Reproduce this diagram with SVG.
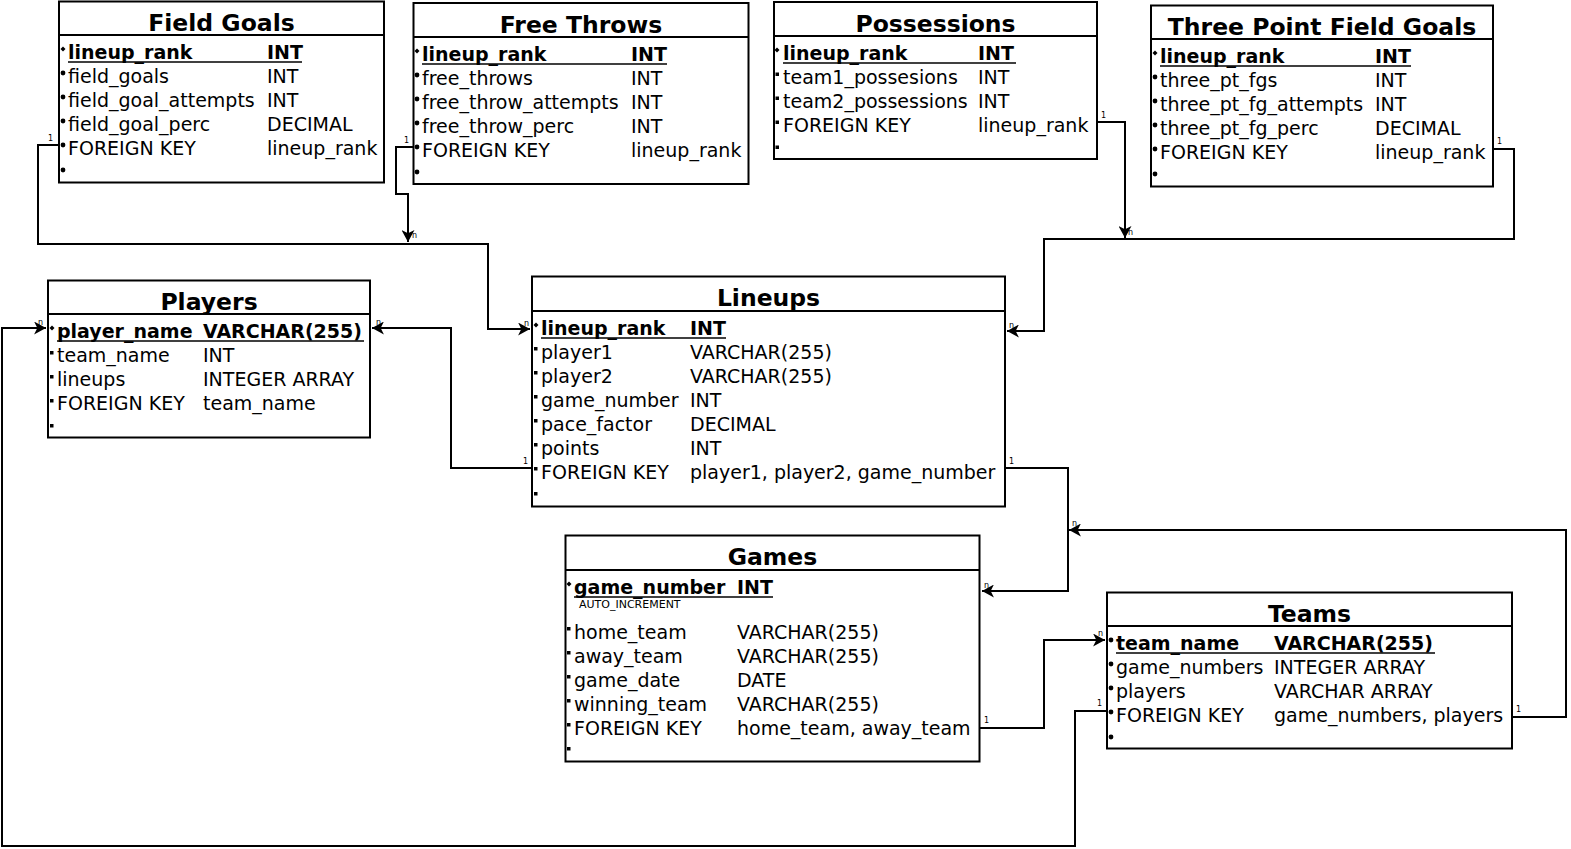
<svg xmlns="http://www.w3.org/2000/svg" width="1571" height="849" viewBox="0 0 1571 849">
<style>
  .box{fill:#fff;stroke:#000;stroke-width:2}
  .hl{stroke:#000;stroke-width:2}
  .title{font-family:"DejaVu Sans",sans-serif;font-weight:bold;font-size:23.5px;text-anchor:middle;fill:#000}
  .t{font-family:"DejaVu Sans",sans-serif;font-size:19px;fill:#000}
  .pk{font-family:"DejaVu Sans",sans-serif;font-size:19px;font-weight:bold;fill:#000}
  .small{font-family:"DejaVu Sans",sans-serif;font-size:11px;fill:#000}
  .ul{stroke:#000;stroke-width:1.5}
  .lbl{font-family:"DejaVu Sans",sans-serif;font-size:8px;fill:#000}
  .conn{fill:none;stroke:#000;stroke-width:2}
</style>
<defs>
  <marker id="arr" markerUnits="userSpaceOnUse" markerWidth="13" markerHeight="13" viewBox="0 0 12 12" refX="11" refY="6" orient="auto">
    <path d="M0,0 L11,6 L0,12 L3,6 z" fill="#000"/>
  </marker>
</defs>

<g id="connectors">
  <path class="conn" d="M59,145 H38 V244 H488 V329 H530" marker-end="url(#arr)"/>
  <path class="conn" d="M413,147 H396 V194 H408 V242" marker-end="url(#arr)"/>
  <path class="conn" d="M1098,122 H1125 V238" marker-end="url(#arr)"/>
  <path class="conn" d="M1493,149 H1514 V239 H1044 V331 H1007" marker-end="url(#arr)"/>
  <path class="conn" d="M532,468 H451 V328 H372" marker-end="url(#arr)"/>
  <path class="conn" d="M1005,468 H1068 V591 H982" marker-end="url(#arr)"/>
  <path class="conn" d="M1512,717 H1566 V530 H1069" marker-end="url(#arr)"/>
  <path class="conn" d="M980,728 H1044 V640 H1105" marker-end="url(#arr)"/>
  <path class="conn" d="M1107,711 H1075 V846 H2 V328 H46" marker-end="url(#arr)"/>
  <text class="lbl" x="48" y="141">1</text>
  <text class="lbl" x="524" y="326">n</text>
  <text class="lbl" x="404" y="143">1</text>
  <text class="lbl" x="412" y="238">n</text>
  <text class="lbl" x="1101" y="118">1</text>
  <text class="lbl" x="1128" y="235">n</text>
  <text class="lbl" x="1497" y="144">1</text>
  <text class="lbl" x="1009" y="328">n</text>
  <text class="lbl" x="523" y="464">1</text>
  <text class="lbl" x="376" y="325">n</text>
  <text class="lbl" x="1009" y="464">1</text>
  <text class="lbl" x="984" y="588">n</text>
  <text class="lbl" x="1516" y="712">1</text>
  <text class="lbl" x="1072" y="526">n</text>
  <text class="lbl" x="984" y="723">1</text>
  <text class="lbl" x="1098" y="636">n</text>
  <text class="lbl" x="1097" y="706">1</text>
  <text class="lbl" x="38" y="325">n</text>
</g>

<g id="field-goals">
  <rect class="box" x="59" y="1.5" width="325" height="181"/>
  <line class="hl" x1="59" y1="35" x2="384" y2="35"/>
  <text class="title" x="221.5" y="31">Field Goals</text>
  <path d="M63,46.5 l2.5,2.5 l-2.5,2.5 l-2.5,-2.5 z"/>
  <circle cx="63" cy="73" r="2.4"/><circle cx="63" cy="97" r="2.4"/><circle cx="63" cy="121" r="2.4"/><circle cx="63" cy="145" r="2.4"/><circle cx="63" cy="170" r="2.4"/>
  <text class="pk" x="68" y="59">lineup_rank</text><text class="pk" x="267" y="59">INT</text>
  <line class="ul" x1="68" y1="62" x2="302" y2="62"/>
  <text class="t" x="68" y="83">field_goals</text><text class="t" x="267" y="83">INT</text>
  <text class="t" x="68" y="107">field_goal_attempts</text><text class="t" x="267" y="107">INT</text>
  <text class="t" x="68" y="131">field_goal_perc</text><text class="t" x="267" y="131">DECIMAL</text>
  <text class="t" x="68" y="155">FOREIGN KEY</text><text class="t" x="267" y="155">lineup_rank</text>
</g>

<g id="free-throws">
  <rect class="box" x="413.5" y="3" width="335" height="181"/>
  <line class="hl" x1="413.5" y1="37" x2="748.5" y2="37"/>
  <text class="title" x="581" y="33">Free Throws</text>
  <path d="M417,48.5 l2.5,2.5 l-2.5,2.5 l-2.5,-2.5 z"/>
  <circle cx="417" cy="75" r="2.4"/><circle cx="417" cy="99" r="2.4"/><circle cx="417" cy="123" r="2.4"/><circle cx="417" cy="147" r="2.4"/><circle cx="417" cy="172" r="2.4"/>
  <text class="pk" x="422" y="61">lineup_rank</text><text class="pk" x="631" y="61">INT</text>
  <line class="ul" x1="422" y1="64" x2="667" y2="64"/>
  <text class="t" x="422" y="85">free_throws</text><text class="t" x="631" y="85">INT</text>
  <text class="t" x="422" y="109">free_throw_attempts</text><text class="t" x="631" y="109">INT</text>
  <text class="t" x="422" y="133">free_throw_perc</text><text class="t" x="631" y="133">INT</text>
  <text class="t" x="422" y="157">FOREIGN KEY</text><text class="t" x="631" y="157">lineup_rank</text>
</g>

<g id="possessions">
  <rect class="box" x="774" y="2" width="323" height="157"/>
  <line class="hl" x1="774" y1="36" x2="1097" y2="36"/>
  <text class="title" x="935.5" y="32">Possessions</text>
  <path d="M777,47.5 l2.5,2.5 l-2.5,2.5 l-2.5,-2.5 z"/>
  <rect x="775.5" y="72.5" width="3.5" height="3.5"/><rect x="775.5" y="96.5" width="3.5" height="3.5"/><rect x="775.5" y="120.5" width="3.5" height="3.5"/><rect x="775.5" y="145.5" width="3.5" height="3.5"/>
  <text class="pk" x="783" y="60">lineup_rank</text><text class="pk" x="978" y="60">INT</text>
  <line class="ul" x1="783" y1="63" x2="1016" y2="63"/>
  <text class="t" x="783" y="84">team1_possesions</text><text class="t" x="978" y="84">INT</text>
  <text class="t" x="783" y="108">team2_possessions</text><text class="t" x="978" y="108">INT</text>
  <text class="t" x="783" y="132">FOREIGN KEY</text><text class="t" x="978" y="132">lineup_rank</text>
</g>

<g id="three-point-field-goals">
  <rect class="box" x="1151" y="5.5" width="342" height="181"/>
  <line class="hl" x1="1151" y1="39" x2="1493" y2="39"/>
  <text class="title" x="1322" y="35">Three Point Field Goals</text>
  <path d="M1155,50.5 l2.5,2.5 l-2.5,2.5 l-2.5,-2.5 z"/>
  <circle cx="1155" cy="77" r="2.4"/><circle cx="1155" cy="101" r="2.4"/><circle cx="1155" cy="125" r="2.4"/><circle cx="1155" cy="149" r="2.4"/><circle cx="1155" cy="174" r="2.4"/>
  <text class="pk" x="1160" y="63">lineup_rank</text><text class="pk" x="1375" y="63">INT</text>
  <line class="ul" x1="1160" y1="66" x2="1411" y2="66"/>
  <text class="t" x="1160" y="87">three_pt_fgs</text><text class="t" x="1375" y="87">INT</text>
  <text class="t" x="1160" y="111">three_pt_fg_attempts</text><text class="t" x="1375" y="111">INT</text>
  <text class="t" x="1160" y="135">three_pt_fg_perc</text><text class="t" x="1375" y="135">DECIMAL</text>
  <text class="t" x="1160" y="159">FOREIGN KEY</text><text class="t" x="1375" y="159">lineup_rank</text>
</g>

<g id="players">
  <rect class="box" x="48" y="280.5" width="322" height="157"/>
  <line class="hl" x1="48" y1="314" x2="370" y2="314"/>
  <text class="title" x="209" y="310">Players</text>
  <path d="M52,325.5 l2.5,2.5 l-2.5,2.5 l-2.5,-2.5 z"/>
  <rect x="50" y="351" width="3.5" height="3.5"/><rect x="50" y="375" width="3.5" height="3.5"/><rect x="50" y="399" width="3.5" height="3.5"/><rect x="50" y="424" width="3.5" height="3.5"/>
  <text class="pk" x="57" y="338">player_name</text><text class="pk" x="203" y="338">VARCHAR(255)</text>
  <line class="ul" x1="57" y1="341" x2="364" y2="341"/>
  <text class="t" x="57" y="362">team_name</text><text class="t" x="203" y="362">INT</text>
  <text class="t" x="57" y="386">lineups</text><text class="t" x="203" y="386">INTEGER ARRAY</text>
  <text class="t" x="57" y="410">FOREIGN KEY</text><text class="t" x="203" y="410">team_name</text>
</g>

<g id="lineups">
  <rect class="box" x="532" y="276.5" width="473" height="230"/>
  <line class="hl" x1="532" y1="311" x2="1005" y2="311"/>
  <text class="title" x="768.5" y="306">Lineups</text>
  <path d="M536,322.5 l2.5,2.5 l-2.5,2.5 l-2.5,-2.5 z"/>
  <rect x="534" y="347" width="3.5" height="3.5"/><rect x="534" y="371" width="3.5" height="3.5"/><rect x="534" y="395" width="3.5" height="3.5"/><rect x="534" y="419" width="3.5" height="3.5"/><rect x="534" y="443" width="3.5" height="3.5"/><rect x="534" y="467" width="3.5" height="3.5"/><rect x="534" y="492" width="3.5" height="3.5"/>
  <text class="pk" x="541" y="335">lineup_rank</text><text class="pk" x="690" y="335">INT</text>
  <line class="ul" x1="541" y1="338" x2="726" y2="338"/>
  <text class="t" x="541" y="359">player1</text><text class="t" x="690" y="359">VARCHAR(255)</text>
  <text class="t" x="541" y="383">player2</text><text class="t" x="690" y="383">VARCHAR(255)</text>
  <text class="t" x="541" y="407">game_number</text><text class="t" x="690" y="407">INT</text>
  <text class="t" x="541" y="431">pace_factor</text><text class="t" x="690" y="431">DECIMAL</text>
  <text class="t" x="541" y="455">points</text><text class="t" x="690" y="455">INT</text>
  <text class="t" x="541" y="479">FOREIGN KEY</text><text class="t" x="690" y="479">player1, player2, game_number</text>
</g>

<g id="games">
  <rect class="box" x="565.5" y="535.5" width="414" height="226"/>
  <line class="hl" x1="565.5" y1="570" x2="979.5" y2="570"/>
  <text class="title" x="772.5" y="565">Games</text>
  <path d="M569,581.5 l2.5,2.5 l-2.5,2.5 l-2.5,-2.5 z"/>
  <rect x="567" y="627" width="3.5" height="3.5"/><rect x="567" y="651" width="3.5" height="3.5"/><rect x="567" y="675" width="3.5" height="3.5"/><rect x="567" y="699" width="3.5" height="3.5"/><rect x="567" y="723" width="3.5" height="3.5"/><rect x="567" y="747" width="3.5" height="3.5"/>
  <text class="pk" x="574" y="594">game_number</text><text class="pk" x="737" y="594">INT</text>
  <line class="ul" x1="574" y1="597" x2="773" y2="597"/>
  <text class="small" x="579" y="608">AUTO_INCREMENT</text>
  <text class="t" x="574" y="639">home_team</text><text class="t" x="737" y="639">VARCHAR(255)</text>
  <text class="t" x="574" y="663">away_team</text><text class="t" x="737" y="663">VARCHAR(255)</text>
  <text class="t" x="574" y="687">game_date</text><text class="t" x="737" y="687">DATE</text>
  <text class="t" x="574" y="711">winning_team</text><text class="t" x="737" y="711">VARCHAR(255)</text>
  <text class="t" x="574" y="735">FOREIGN KEY</text><text class="t" x="737" y="735">home_team, away_team</text>
</g>

<g id="teams">
  <rect class="box" x="1107" y="592.5" width="405" height="156"/>
  <line class="hl" x1="1107" y1="626" x2="1512" y2="626"/>
  <text class="title" x="1309.5" y="622">Teams</text>
  <circle cx="1111" cy="640" r="2.4"/><circle cx="1111" cy="664" r="2.4"/><circle cx="1111" cy="688" r="2.4"/><circle cx="1111" cy="712" r="2.4"/><circle cx="1111" cy="737" r="2.4"/>
  <text class="pk" x="1116" y="650">team_name</text><text class="pk" x="1274" y="650">VARCHAR(255)</text>
  <line class="ul" x1="1116" y1="653" x2="1435" y2="653"/>
  <text class="t" x="1116" y="674">game_numbers</text><text class="t" x="1274" y="674">INTEGER ARRAY</text>
  <text class="t" x="1116" y="698">players</text><text class="t" x="1274" y="698">VARCHAR ARRAY</text>
  <text class="t" x="1116" y="722">FOREIGN KEY</text><text class="t" x="1274" y="722">game_numbers, players</text>
</g>
</svg>
